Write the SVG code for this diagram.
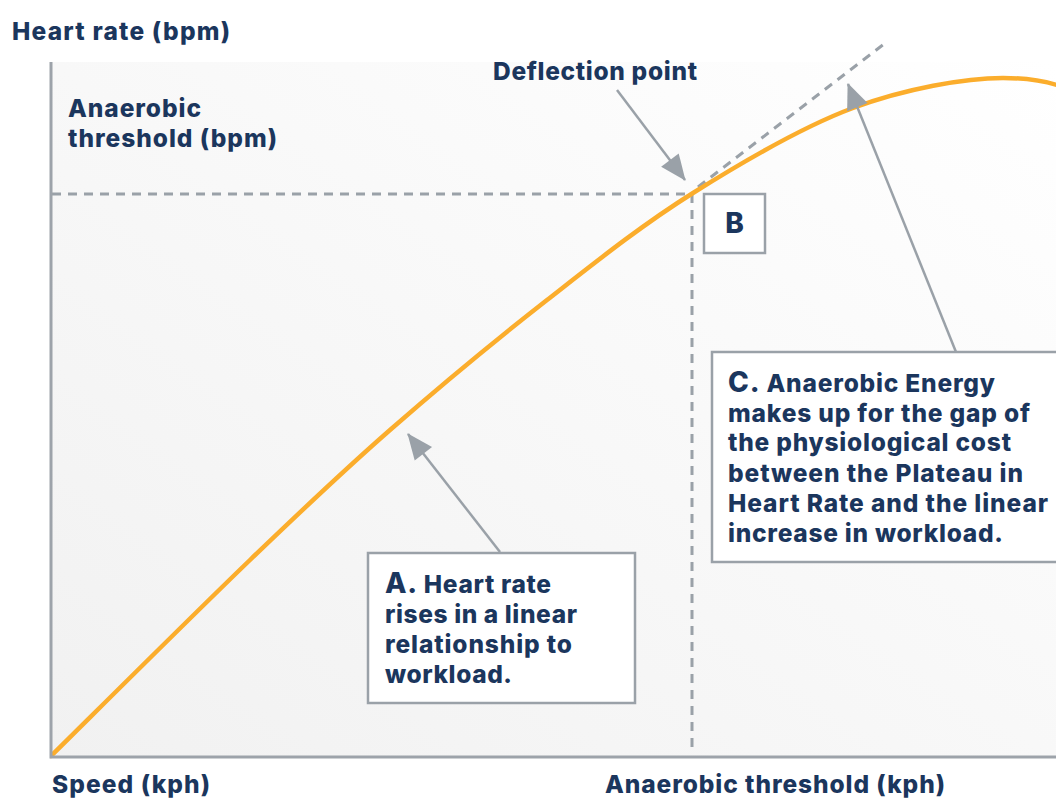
<svg xmlns="http://www.w3.org/2000/svg" width="1056" height="799" viewBox="0 0 1056 799">
  <style>
    .lbl { font-family: Inter, "Noto Sans", "DejaVu Sans", sans-serif; font-weight: 800; fill: #1b365d; font-size: 24.5px; }
    .big { font-size: 28px; }
    .box { fill: #ffffff; stroke: #9aa1a8; stroke-width: 2.5; }
    .dash { fill: none; stroke: #9aa1a8; stroke-width: 3; stroke-dasharray: 9 7; }
    .axis { fill: none; stroke: #9da3aa; stroke-width: 3; }
    .arrow { fill: none; stroke: #9aa1a8; stroke-width: 2.5; marker-end: url(#ah); }
  </style>
  <defs>
    <linearGradient id="bg" x1="0" y1="1" x2="1" y2="0">
      <stop offset="0" stop-color="#f1f1f1"/>
      <stop offset="1" stop-color="#ffffff"/>
    </linearGradient>
    <marker id="ah" markerUnits="userSpaceOnUse" markerWidth="26" markerHeight="22" refX="25" refY="11" orient="auto" overflow="visible">
      <path d="M0,0 L26,11 L0,22 z" fill="#9aa1a8"/>
    </marker>
    <clipPath id="plot"><rect x="50" y="40" width="1006" height="720"/></clipPath>
  </defs>

  <rect width="1056" height="799" fill="#ffffff"/>

  <g id="plot-area">
    <rect x="51" y="62" width="1005" height="695" fill="url(#bg)"/>
  </g>

  <g id="guides">
    <line class="dash" x1="52" y1="194" x2="692" y2="194"/>
    <line class="dash" x1="692" y1="194" x2="692" y2="754"/>
    <line class="dash" x1="698" y1="187" x2="884" y2="44"/>
  </g>

  <g id="curve" clip-path="url(#plot)">
    <path d="M51,756 C84.2,723.3 193.5,614.3 250,560 C306.5,505.7 340.5,473.3 390,430 C439.5,386.7 496.5,339.5 547,300 C597.5,260.5 642,225 693,193 C744,161 801.3,127.2 853,108 C904.7,88.8 965,78 1003,78 C1025,78 1042,80 1060,86" fill="none" stroke="#fbad2c" stroke-width="4.5" stroke-linecap="round"/>
  </g>

  <g id="axes">
    <polyline class="axis" points="51,62 51,757 1056,757"/>
  </g>

  <g id="connectors">
    <line class="arrow" x1="500" y1="552" x2="408" y2="434"/>
    <line class="arrow" x1="617" y1="90" x2="685" y2="180"/>
    <line class="arrow" x1="956" y1="352" x2="848" y2="84"/>
  </g>

  <g id="y-axis-label">
    <text class="lbl" x="12" y="40" textLength="218">Heart rate (bpm)</text>
  </g>
  <g id="threshold-bpm-label">
    <text class="lbl" x="68" y="117" textLength="133">Anaerobic</text>
    <text class="lbl" x="68" y="147" textLength="209">threshold (bpm)</text>
  </g>
  <g id="deflection-label">
    <text class="lbl" x="493" y="80" textLength="204">Deflection point</text>
  </g>
  <g id="x-axis-label">
    <text class="lbl" x="52" y="793" textLength="158">Speed (kph)</text>
  </g>
  <g id="threshold-kph-label">
    <text class="lbl" x="605" y="793" textLength="340">Anaerobic threshold (kph)</text>
  </g>

  <g id="box-b">
    <rect class="box" x="704" y="194" width="61" height="59"/>
    <text class="lbl big" x="734.5" y="233" text-anchor="middle">B</text>
  </g>

  <g id="box-a">
    <rect class="box" x="368" y="553" width="267" height="150"/>
    <text class="lbl" x="385" y="593" textLength="166"><tspan class="big">A.</tspan> Heart rate</text>
    <text class="lbl" x="385" y="623" textLength="192">rises in a linear</text>
    <text class="lbl" x="385" y="653" textLength="187">relationship to</text>
    <text class="lbl" x="385" y="683" textLength="127">workload.</text>
  </g>

  <g id="box-c">
    <rect class="box" x="712" y="352" width="352" height="210"/>
    <text class="lbl" x="728" y="392" textLength="267"><tspan class="big">C.</tspan> Anaerobic Energy</text>
    <text class="lbl" x="728" y="422" textLength="302">makes up for the gap of</text>
    <text class="lbl" x="728" y="451" textLength="283">the physiological cost</text>
    <text class="lbl" x="728" y="482" textLength="295">between the Plateau in</text>
    <text class="lbl" x="728" y="512" textLength="320">Heart Rate and the linear</text>
    <text class="lbl" x="728" y="542" textLength="275">increase in workload.</text>
  </g>
</svg>
